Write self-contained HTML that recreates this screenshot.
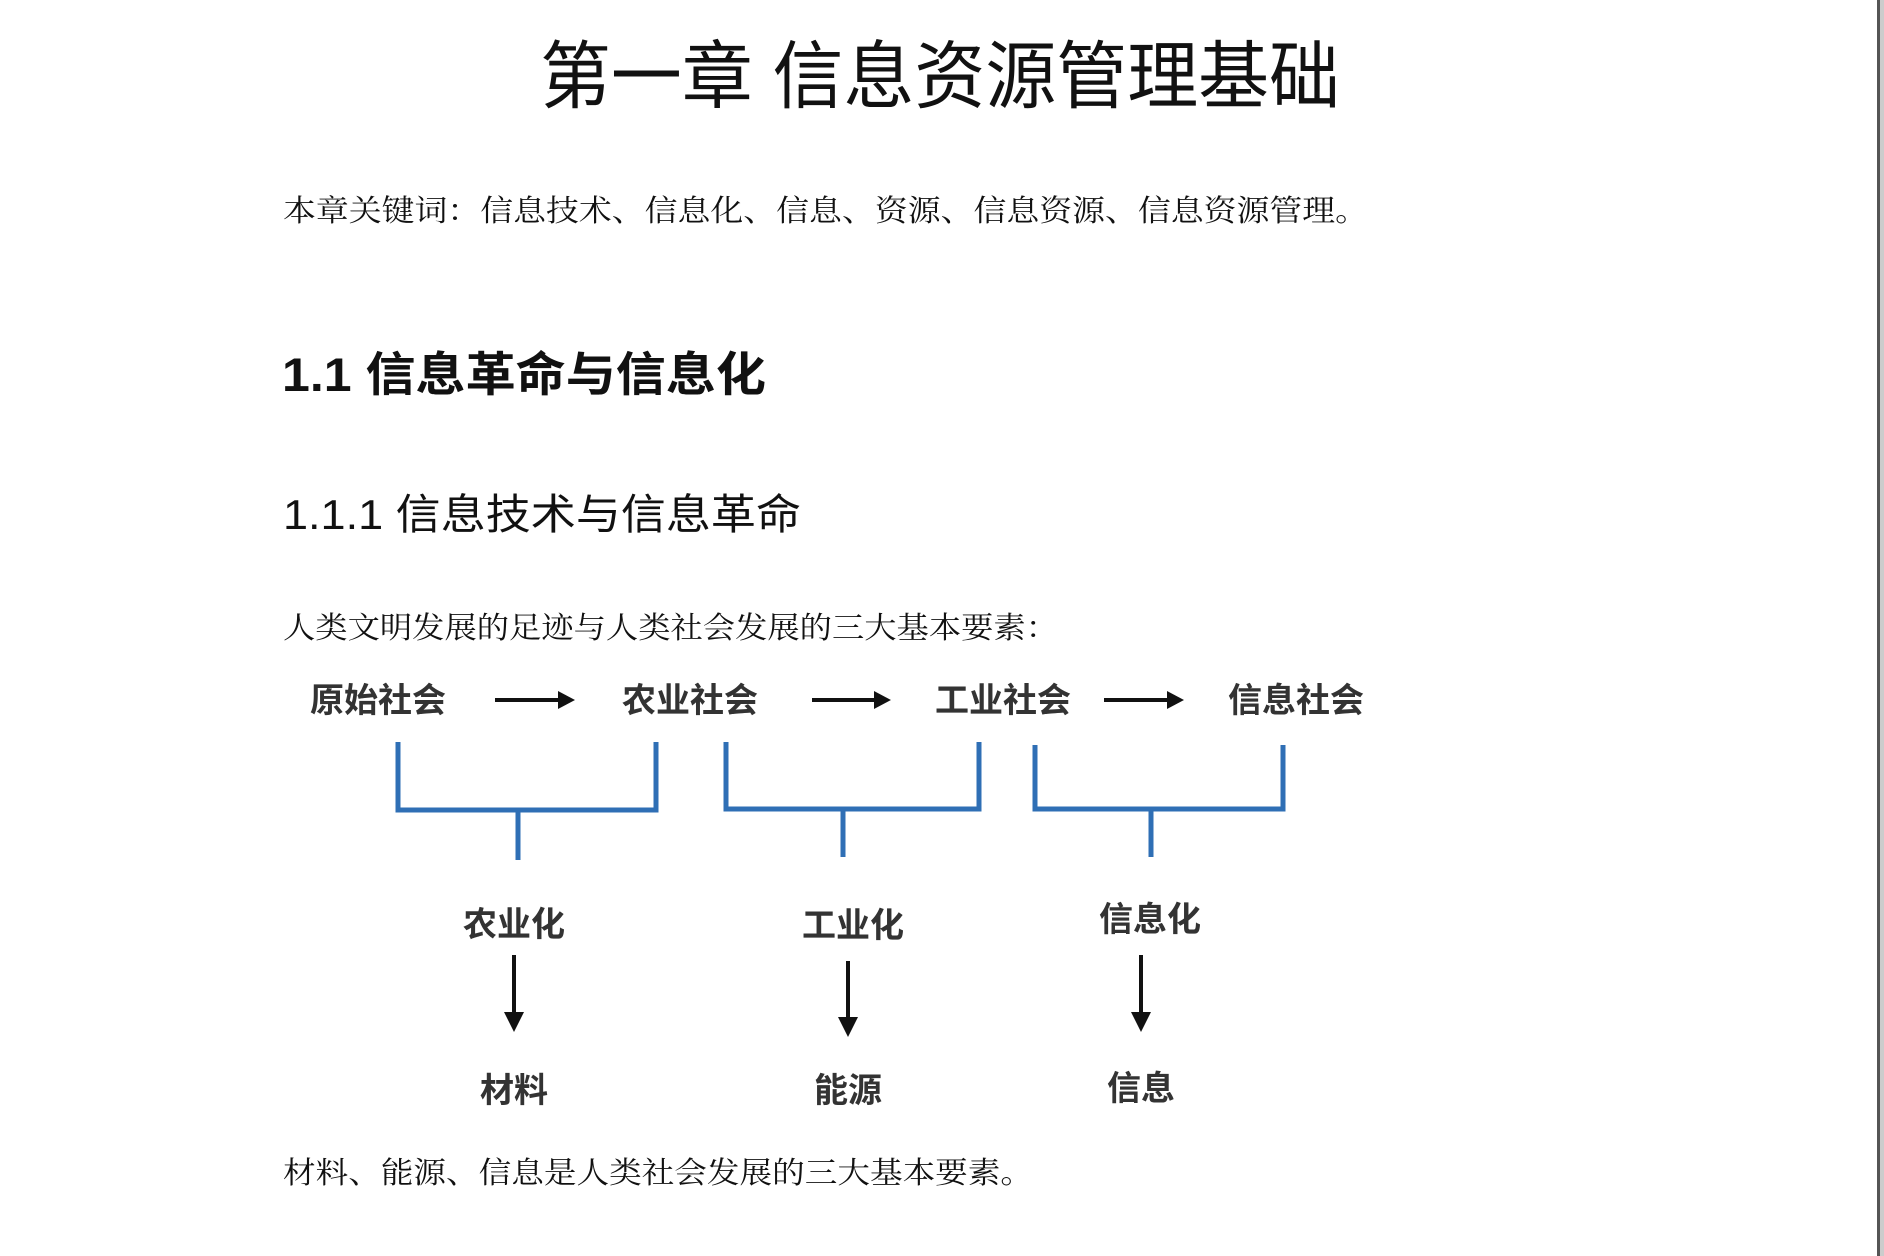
<!DOCTYPE html>
<html><head><meta charset="utf-8"><style>
html,body{margin:0;padding:0;background:#fff;width:1884px;height:1256px;overflow:hidden}
svg{display:block}
.s{font-family:"Liberation Serif","Noto Serif CJK SC",serif;fill:#111}
.h{font-family:"Liberation Sans","Noto Sans CJK SC",sans-serif;fill:#111}
.d{font-family:"Liberation Sans","Noto Sans CJK SC",sans-serif;fill:#333;font-weight:600;font-size:34px}
</style></head><body>
<svg width="1884" height="1256" viewBox="0 0 1884 1256">
<rect x="1877" y="0" width="3" height="1256" fill="#555"/>
<rect x="1880" y="0" width="4" height="1256" fill="#ccc"/>
<text class="h" x="540" y="102" font-size="74" textLength="800" lengthAdjust="spacingAndGlyphs">第一章  信息资源管理基础</text>
<text class="s" x="283" y="221" font-size="30" textLength="1085" lengthAdjust="spacingAndGlyphs">本章关键词：信息技术、信息化、信息、资源、信息资源、信息资源管理。</text>
<text class="h" x="282" y="391" font-size="47" font-weight="bold" textLength="484" lengthAdjust="spacingAndGlyphs">1.1  信息革命与信息化</text>
<text class="h" x="283" y="529" font-size="42" textLength="518" lengthAdjust="spacingAndGlyphs">1.1.1  信息技术与信息革命</text>
<text class="s" x="283" y="638" font-size="30" textLength="775" lengthAdjust="spacingAndGlyphs">人类文明发展的足迹与人类社会发展的三大基本要素：</text>
<g class="d">
<text x="378" y="712" text-anchor="middle">原始社会</text>
<text x="690" y="712" text-anchor="middle">农业社会</text>
<text x="1003" y="712" text-anchor="middle">工业社会</text>
<text x="1296" y="712" text-anchor="middle">信息社会</text>
<text x="514" y="936" text-anchor="middle">农业化</text>
<text x="853" y="937" text-anchor="middle">工业化</text>
<text x="1150" y="931" text-anchor="middle">信息化</text>
<text x="514" y="1102" text-anchor="middle">材料</text>
<text x="848" y="1102" text-anchor="middle">能源</text>
<text x="1141" y="1100" text-anchor="middle">信息</text>
</g>
<g stroke="#111" stroke-width="4">
<line x1="495" y1="700" x2="562" y2="700"/>
<line x1="812" y1="700" x2="878" y2="700"/>
<line x1="1104" y1="700" x2="1171" y2="700"/>
<line x1="514" y1="955" x2="514" y2="1015"/>
<line x1="848" y1="961" x2="848" y2="1020"/>
<line x1="1141" y1="955" x2="1141" y2="1015"/>
</g>
<g fill="#111">
<polygon points="558,691 575,700 558,709"/>
<polygon points="874,691 891,700 874,709"/>
<polygon points="1167,691 1184,700 1167,709"/>
<polygon points="504,1012 524,1012 514,1032"/>
<polygon points="838,1017 858,1017 848,1037"/>
<polygon points="1131,1012 1151,1012 1141,1032"/>
</g>
<g stroke="#2f6fb5" stroke-width="5" fill="none">
<polyline points="398,742 398,810 656,810 656,742"/>
<line x1="518" y1="810" x2="518" y2="860"/>
<polyline points="726,742 726,809 979,809 979,742"/>
<line x1="843" y1="809" x2="843" y2="857"/>
<polyline points="1035,745 1035,809 1283,809 1283,745"/>
<line x1="1151" y1="809" x2="1151" y2="857"/>
</g>
<text class="s" x="283" y="1183" font-size="30" textLength="750" lengthAdjust="spacingAndGlyphs">材料、能源、信息是人类社会发展的三大基本要素。</text>
</svg>
</body></html>
